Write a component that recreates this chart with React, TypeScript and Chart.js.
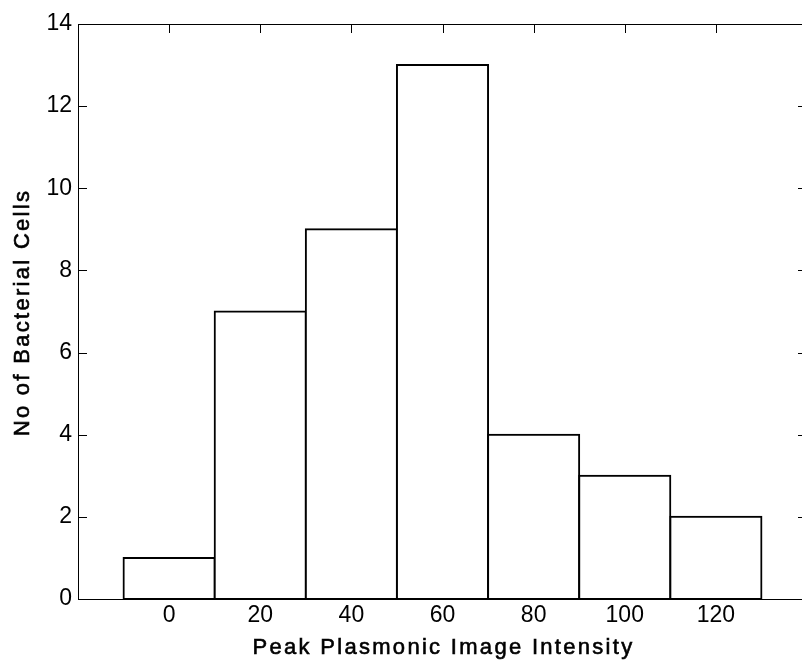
import { useEffect, useRef } from "react";
import { Chart, registerables } from "chart.js";

Chart.register(...registerables);

const binCenters = [0, 20, 40, 60, 80, 100, 120];
const cellCounts = [1, 7, 9, 13, 4, 3, 2];
const xTickValues = [0, 20, 40, 60, 80, 100, 120];
const yTickValues = [0, 2, 4, 6, 8, 10, 12, 14];
const xTitle = "Peak Plasmonic Image Intensity";
const yTitle = "No of Bacterial Cells";

const FONT_FAMILY = "'Liberation Sans', Arial, sans-serif";

const frameAndTitles = {
  id: "frameAndTitles",
  beforeDatasetsDraw(chart: any) {
    const { ctx, chartArea, scales } = chart;
    const { left, right, top, bottom } = chartArea;
    const tl = 9;
    ctx.save();
    ctx.strokeStyle = "#000";
    ctx.lineWidth = 1;
    ctx.beginPath();
    ctx.rect(Math.round(left) + 0.5, Math.round(top) + 0.5, Math.round(right - left), Math.round(bottom - top));
    for (const v of xTickValues) {
      const px = Math.round(scales.x.getPixelForValue(v)) + 0.5;
      ctx.moveTo(px, bottom);
      ctx.lineTo(px, bottom - tl);
      ctx.moveTo(px, top);
      ctx.lineTo(px, top + tl);
    }
    for (const v of yTickValues) {
      const py = Math.round(scales.y.getPixelForValue(v)) + 0.5;
      ctx.moveTo(left, py);
      ctx.lineTo(left + tl, py);
      ctx.moveTo(right, py);
      ctx.lineTo(right - tl, py);
    }
    ctx.stroke();
    ctx.restore();
  },
  afterDraw(chart: any) {
    const { ctx, chartArea } = chart;
    ctx.save();
    ctx.fillStyle = "#000";
    ctx.strokeStyle = "#000";
    ctx.lineWidth = 0.6;
    ctx.font = `22px ${FONT_FAMILY}`;
    (ctx as any).letterSpacing = "2.3px";
    ctx.textAlign = "center";
    ctx.textBaseline = "alphabetic";
    const cx = (chartArea.left + chartArea.right) / 2 + 1;
    ctx.fillText(xTitle, cx, 654);
    ctx.strokeText(xTitle, cx, 654);
    ctx.translate(29, (chartArea.top + chartArea.bottom) / 2 + 1);
    ctx.rotate(-Math.PI / 2);
    ctx.fillText(yTitle, 0, 0);
    ctx.strokeText(yTitle, 0, 0);
    ctx.restore();
  },
};

export default function App() {
  const canvasRef = useRef<HTMLCanvasElement | null>(null);

  useEffect(() => {
    const canvas = canvasRef.current;
    if (!canvas) return;
    const tickFont = { family: FONT_FAMILY, size: 23 };
    const chart = new Chart(canvas, {
      type: "bar",
      data: {
        datasets: [
          {
            data: binCenters.map((x, i) => ({ x, y: cellCounts[i] })),
            backgroundColor: "#ffffff",
            borderColor: "#000000",
            borderWidth: 2,
            inflateAmount: 1,
            borderSkipped: false,
            barPercentage: 1,
            categoryPercentage: 1,
          } as any,
        ],
      },
      options: {
        responsive: false,
        animation: false,
        devicePixelRatio: 1,
        layout: { padding: { left: 0, top: 24, right: 5, bottom: 0 } },
        plugins: { legend: { display: false }, tooltip: { enabled: false } },
        scales: {
          x: {
            type: "linear",
            min: -20,
            max: 140,
            offset: false,
            grid: { display: false, drawTicks: false, offset: false },
            border: { display: false },
            ticks: {
              stepSize: 20,
              autoSkip: false,
              maxRotation: 0,
              padding: 3,
              color: "#000",
              font: tickFont,
              callback: (v: any) => (xTickValues.includes(Math.round(Number(v))) ? String(Math.round(Number(v))) : ""),
            },
            afterFit: (s: any) => {
              s.height = 61;
            },
          },
          y: {
            type: "linear",
            min: 0,
            max: 14,
            grid: { display: false, drawTicks: false },
            border: { display: false },
            ticks: {
              stepSize: 2,
              padding: 6,
              color: "#000",
              font: tickFont,
              callback: (v: any) => (yTickValues.includes(Math.round(Number(v))) ? String(Math.round(Number(v))) : ""),
            },
            afterFit: (s: any) => {
              s.width = 78;
            },
          },
        },
      } as any,
      plugins: [frameAndTitles],
    });
    return () => chart.destroy();
  }, []);

  return (
    <div style={{ position: "fixed", left: 0, top: 0, width: 802, height: 660, overflow: "hidden", background: "#fff" }}>
      <canvas ref={canvasRef} width={812} height={660} style={{ width: 812, height: 660, display: "block" }} />
    </div>
  );
}
